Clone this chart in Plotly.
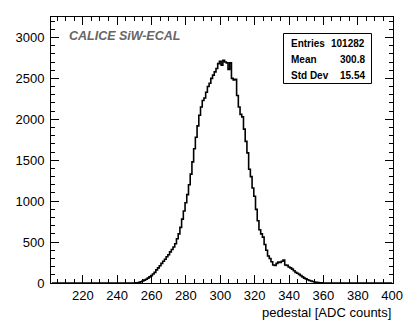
import plotly.graph_objects as go

# ---- data (bin centers in ADC counts, bin width 1) ----
first_bin = 250
counts = [
    0, 1, 3, 8, 15, 25, 35, 45, 60, 75,            # 250-259
    90, 110, 130, 160, 185, 210, 240, 265, 290, 320,  # 260-269
    345, 380, 410, 440, 480, 540, 600, 680, 780, 880,  # 270-279
    980, 1080, 1200, 1330, 1480, 1640, 1780, 1920, 2050, 2150,  # 280-289
    2230, 2260, 2330, 2400, 2440, 2500, 2540, 2580, 2620, 2680,  # 290-299
    2710, 2660, 2720, 2700, 2690, 2610, 2690, 2500, 2480, 2490,  # 300-309
    2290, 2150, 2060, 2030, 1880, 1730, 1590, 1390, 1300, 1160,  # 310-319
    1060, 900, 760, 650, 600, 560, 470, 400, 330, 300,  # 320-329
    260, 220, 215, 240, 255, 250, 265, 280, 220, 215,  # 330-339
    195, 185, 170, 150, 130, 120, 105, 90, 75, 60,  # 340-349
    50, 40, 30, 25, 18, 12, 8, 5, 3, 1,  # 350-359
    0,  # 360
]
hist_lo, hist_hi = 202, 400          # bin centers covered by the histogram
x_tick_vals = [220, 240, 260, 280, 300, 320, 340, 360, 380, 400]
y_tick_vals = [0, 500, 1000, 1500, 2000, 2500, 3000]
stats_labels = ["Entries", "Mean", "Std Dev"]
stats_values = ["101282", "300.8", "15.54"]
x_title = "pedestal [ADC counts]"
tag_text = "CALICE SiW-ECAL"

# full histogram (zero outside the read region)
centers = list(range(hist_lo, hist_hi + 1))
values = []
for c in centers:
    i = c - first_bin
    values.append(counts[i] if 0 <= i < len(counts) else 0)

W, H = 415, 336
ML, MR, MT, MB = 51, 22, 17, 53
PW, PH = W - ML - MR, H - MT - MB


def xp(px):
    return (px - ML) / PW


def yp(py):
    return (H - MB - py) / PH


fig = go.Figure()
fig.add_trace(go.Scatter(
    x=centers, y=values, mode="lines",
    line=dict(shape="hvh", color="black", width=1.6),
    hoverinfo="skip", showlegend=False,
))

font_family = "Liberation Sans, Arial, sans-serif"
axis_common = dict(
    showgrid=False, zeroline=False,
    showline=True, linecolor="black", linewidth=1, mirror="ticks",
    ticks="inside", ticklen=8, tickwidth=1, tickcolor="black",
    tickfont=dict(family=font_family, size=13, color="black"),
)
fig.update_layout(
    width=W, height=H,
    margin=dict(l=ML, r=MR, t=MT, b=MB),
    paper_bgcolor="white", plot_bgcolor="white",
    xaxis=dict(range=[201.5, 400.5], tickvals=x_tick_vals,
               minor=dict(dtick=5, tick0=200, ticks="inside", ticklen=4, tickcolor="black"),
               **axis_common),
    yaxis=dict(range=[0, 3250], tickvals=y_tick_vals,
               minor=dict(dtick=100, tick0=0, ticks="inside", ticklen=4, tickcolor="black"),
               ticklabelstandoff=3,
               **axis_common),
)

# x-axis title, right aligned (ROOT style)
fig.add_annotation(xref="paper", yref="paper", x=1, y=yp(312), text=x_title,
                   showarrow=False, xanchor="right", yanchor="middle",
                   font=dict(family=font_family, size=13, color="black"))

# experiment tag
fig.add_annotation(xref="paper", yref="paper", x=xp(67), y=yp(36), text="<b><i>" + tag_text + "</i></b>",
                   showarrow=False, xanchor="left", yanchor="middle",
                   font=dict(family=font_family, size=12.5, color="#666666"))

# stats box
fig.add_shape(type="rect", xref="paper", yref="paper",
              x0=xp(283.5), x1=xp(371.5), y0=yp(83.5), y1=yp(33.5),
              line=dict(color="black", width=1), fillcolor="white")
row_y = [43.5, 59.5, 75.5]
for lab, val, ry in zip(stats_labels, stats_values, row_y):
    fig.add_annotation(xref="paper", yref="paper", x=xp(289), y=yp(ry), text="<b>" + lab + "</b>",
                       showarrow=False, xanchor="left", yanchor="middle",
                       font=dict(family=font_family, size=10, color="black"))
    fig.add_annotation(xref="paper", yref="paper", x=xp(367), y=yp(ry), text="<b>" + val + "</b>",
                       showarrow=False, xanchor="right", yanchor="middle",
                       font=dict(family=font_family, size=10, color="black"))

fig.write_html("out.html",
               config={"displayModeBar": False, "staticPlot": True},
               post_script="document.body.style.margin='0px';document.body.style.overflow='hidden';")
